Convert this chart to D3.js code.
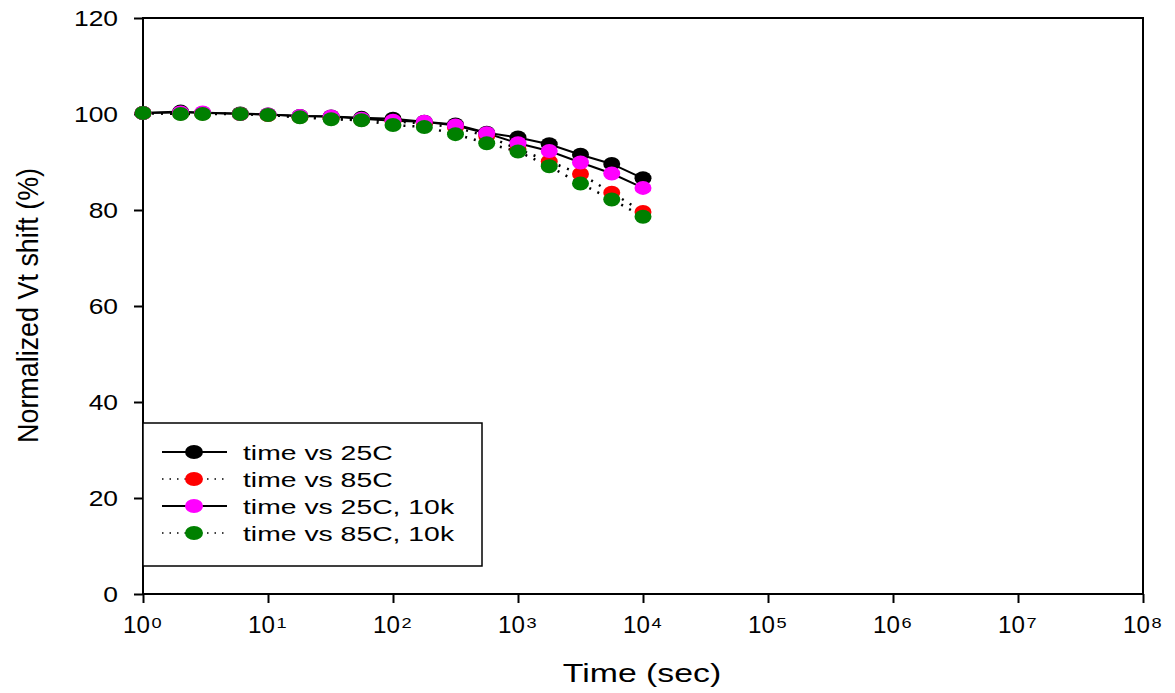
<!DOCTYPE html>
<html>
<head>
<meta charset="utf-8">
<script src="https://cdn.jsdelivr.net/npm/d3@7"></script>
<style>
  body { margin: 0; background: #fff; }
  text { font-family: "Liberation Sans", Arial, sans-serif; fill: #000; }
</style>
</head>
<body>
<div id="chart"></div>
<script>
// time points (sec)
var times = [1, 2, 3, 6, 10, 18, 32, 56, 100, 178, 316, 562, 1000, 1778, 3162, 5623, 10000];

// normalized Vt shift (%)
var vt25 = [100.2, 100.5, 100.2, 100.1, 99.9, 99.6, 99.5, 99.2, 99.0, 98.4, 97.8, 96.1, 95.1, 93.7, 91.5, 89.6, 86.6];
var vt85 = [100.2, 100.1, 100.1, 100.0, 99.8, 99.4, 99.1, 98.8, 98.5, 98.0, 97.2, 95.4, 92.7, 90.1, 87.5, 83.6, 79.6];
var vt25k = [100.2, 100.3, 100.3, 100.0, 99.9, 99.6, 99.5, 99.0, 98.6, 98.4, 97.6, 96.0, 93.9, 92.3, 89.9, 87.6, 84.6];
var vt85k = [100.2, 100.0, 100.0, 100.0, 99.8, 99.3, 98.9, 98.7, 97.7, 97.3, 95.8, 93.9, 92.2, 89.1, 85.5, 82.2, 78.6];

var seriesNames = ["time vs 25C", "time vs 85C", "time vs 25C, 10k", "time vs 85C, 10k"];
var seriesColors = ["#000000", "#ff0000", "#ff00ff", "#008000"];
var seriesDotted = [false, true, false, true];
var seriesValues = [vt25, vt85, vt25k, vt85k];

var yTicks = [0, 20, 40, 60, 80, 100, 120];
var xTicks = [1, 10, 100, 1000, 10000, 100000, 1000000, 10000000, 100000000];

var width = 1175, height = 693;
var margin = { left: 143, right: 32, top: 18, bottom: 99 };

var svg = d3.select("#chart").append("svg")
    .attr("width", width)
    .attr("height", height);

var x = d3.scaleLog().domain([1, 1e8]).range([margin.left, width - margin.right]);
var y = d3.scaleLinear().domain([0, 120]).range([height - margin.bottom, margin.top]);

// the original picture has its text stretched wide, so scale it along x
function wideText(g, px, py, sx, size, anchor, str) {
    return g.append("text")
        .attr("transform", "translate(" + px + "," + py + ") scale(" + sx + ",1)")
        .attr("text-anchor", anchor)
        .style("font-size", size + "px")
        .text(str);
}

// frame
svg.append("rect")
    .attr("x", x(1)).attr("y", y(120))
    .attr("width", x(1e8) - x(1)).attr("height", y(0) - y(120))
    .attr("fill", "none").attr("stroke", "#000").attr("stroke-width", 2);

// y axis
var yAxis = svg.append("g")
    .attr("transform", "translate(" + x(1) + ",0)")
    .call(d3.axisLeft(y).tickValues(yTicks).tickSize(9).tickFormat(""));
yAxis.select(".domain").remove();
yAxis.selectAll("line").attr("stroke-width", 2);

var yLab = svg.append("g");
yTicks.forEach(function (t) {
    wideText(yLab, x(1) - 25, y(t) + 8, 1.2, 22, "end", t);
});

// x axis
var xAxis = svg.append("g")
    .attr("transform", "translate(0," + y(0) + ")")
    .call(d3.axisBottom(x).tickValues(xTicks).tickSize(9).tickFormat(""));
xAxis.select(".domain").remove();
xAxis.selectAll("line").attr("stroke-width", 2);

var xLab = svg.append("g");
xTicks.forEach(function (t) {
    wideText(xLab, x(t) - 20, y(0) + 39, 1.05, 23, "start", "10");
    wideText(xLab, x(t) + 8.5, y(0) + 33.5, 1.3, 14, "start", Math.round(Math.log10(t)));
});

// axis titles
wideText(svg, 642, 682, 1.3, 26, "middle", "Time (sec)");

svg.append("text")
    .attr("transform", "translate(38,305.5) rotate(-90) scale(1,1.3)")
    .attr("text-anchor", "middle")
    .attr("textLength", 275)
    .attr("lengthAdjust", "spacingAndGlyphs")
    .style("font-size", "22px")
    .text("Normalized Vt shift (%)");

// series
var line = d3.line()
    .x(function (d) { return x(d[0]); })
    .y(function (d) { return y(d[1]); });

seriesValues.forEach(function (vals, i) {
    var pts = times.map(function (t, j) { return [t, vals[j]]; });
    svg.append("path")
        .datum(pts)
        .attr("d", line)
        .attr("fill", "none")
        .attr("stroke", "#000")
        .attr("stroke-width", seriesDotted[i] ? 2.5 : 2)
        .attr("stroke-dasharray", seriesDotted[i] ? "2,7" : null);
});

seriesValues.forEach(function (vals, i) {
    var pts = times.map(function (t, j) { return [t, vals[j]]; });
    svg.append("g").selectAll("ellipse")
        .data(pts)
        .enter().append("ellipse")
        .attr("cx", function (d) { return x(d[0]); })
        .attr("cy", function (d) { return y(d[1]); })
        .attr("rx", 8.5)
        .attr("ry", 7)
        .attr("fill", seriesColors[i]);
});

// legend
var legend = svg.append("g").attr("transform", "translate(143,423)");
legend.append("rect")
    .attr("width", 339).attr("height", 143)
    .attr("fill", "#fff").attr("stroke", "#000").attr("stroke-width", 1.5);

seriesNames.forEach(function (name, i) {
    var ry = 29 + i * 27;
    legend.append("line")
        .attr("x1", 19).attr("x2", 84)
        .attr("y1", ry).attr("y2", ry)
        .attr("stroke", "#000")
        .attr("stroke-width", seriesDotted[i] ? 1.5 : 2)
        .attr("stroke-dasharray", seriesDotted[i] ? "1.5,6" : null);
    legend.append("ellipse")
        .attr("cx", 51).attr("cy", ry)
        .attr("rx", 9).attr("ry", 7)
        .attr("fill", seriesColors[i]);
    wideText(legend, 100, ry + 7.5, 1.35, 21, "start", name);
});
</script>
</body>
</html>
